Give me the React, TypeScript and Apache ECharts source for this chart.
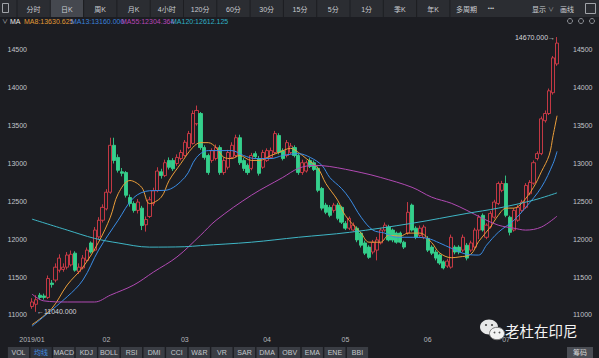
import React, { useEffect, useRef } from "react";
import * as echarts from "echarts";

// ---- categories ----
const months = ["2019/01", "02", "03", "04", "05", "06", "07"];
const monthCounts = [19, 20, 21, 20, 21, 20, 14];

// ---- OHLC ----
const opens = [11110,11140,11260,11250,11230,11420,11460,11590,11600,11630,11660,11815,11570,11620,11720,11950,11855,12030,12250,12400,
12620,13240,13080,12890,12880,12550,12470,12380,12410,12190,12300,12470,12640,12890,12840,13040,13040,13000,13065,13105,
13210,13265,13525,13660,13210,13105,13040,13065,13210,12880,12950,13080,13105,13340,13040,12975,12935,13130,13065,12950,
13040,13080,13145,13370,13170,13105,13145,13210,13105,12880,12900,13040,13010,12935,12670,12450,12420,12380,12450,12420,
12210,12145,12120,12145,12080,11950,11895,11830,11855,11950,12120,12160,12120,12080,12080,11960,12080,12450,12145,12050,
12025,12010,11895,11830,11790,11700,11645,11630,11895,11895,11855,11920,11855,11895,12120,12315,12025,12160,12290,12470,
12645,12735,12290,12120,12250,12380,12420,12600,12740,13065,13130,13565,13660,13935,14315];
const closes = [11170,11200,11230,11230,11480,11400,11630,11750,11630,11790,11800,11590,11630,11750,11855,11830,12120,12250,12420,12620,
13240,13040,12910,12870,12580,12470,12380,12490,12180,12260,12520,12640,12900,12840,13010,12950,12930,13080,13145,13280,
13395,13660,13700,13210,13080,12880,13170,13210,12880,13040,13145,13240,13340,13010,12935,12880,13105,13090,12870,13145,
13170,13170,13395,13145,13065,13275,13230,13105,12880,13010,13010,12960,12920,12645,12410,12355,12315,12450,12275,12225,
12145,12275,12185,11990,11920,11815,11760,11960,11990,12120,12185,11990,11990,11960,11960,11895,12355,12120,12025,12145,
12160,11855,11815,11750,11685,11620,11710,12025,11830,11830,12025,11750,11950,12120,12290,12120,12185,12340,12490,12735,
12735,12315,12090,12380,12420,12490,12710,12750,13010,13130,13590,13660,13960,14395,14590];
const lows = [11080,11040,11200,11200,11210,11360,11430,11560,11570,11600,11640,11570,11540,11600,11700,11810,11840,12000,12220,12380,
12600,13000,12880,12830,12550,12430,12350,12340,12120,12100,12280,12440,12620,12800,12820,12920,12900,12970,13040,13090,
13190,13250,13500,13180,13050,12850,13010,13040,12850,12850,12920,13060,13080,12980,12900,12850,12910,13060,12840,12930,
13020,13060,13120,13120,13040,13080,13120,13080,12850,12850,12880,12940,12900,12620,12380,12330,12290,12350,12250,12200,
12120,12120,12100,11960,11890,11790,11740,11800,11720,11930,12100,11970,11960,11940,11940,11870,12060,12100,12000,12030,
12000,11830,11790,11720,11660,11600,11620,11610,11800,11800,11830,11720,11830,11870,12000,12100,12000,12140,12270,12450,
12620,12290,12050,12100,12230,12360,12400,12580,12720,13040,13110,13540,13640,13910,14290];
const highs = [11220,11260,11290,11280,11520,11460,11680,11800,11680,11830,11850,11840,11680,11790,11890,11970,12160,12290,12460,12660,
13340,13340,13120,12940,12900,12590,12500,12530,12440,12300,12560,12680,12950,12930,13050,13080,13070,13120,13180,13310,
13430,13700,13765,13680,13240,13130,13200,13250,13240,13080,13180,13280,13380,13380,13070,13000,13140,13160,13100,13180,
13200,13210,13430,13400,13200,13310,13270,13240,13130,13050,13040,13070,13040,12960,12690,12480,12450,12480,12480,12440,
12240,12300,12220,12170,12100,11980,11920,11990,12030,12150,12220,12190,12140,12100,12100,11980,12490,12470,12170,12180,
12190,12040,11920,11860,11810,11720,11740,12060,11920,11920,12060,11950,11980,12150,12320,12340,12210,12370,12520,12760,
12770,12840,12310,12410,12450,12520,12740,12780,13040,13160,13620,13700,13990,14420,14670];

// ---- moving averages: [category index, value] ----
const ma8 = [[0,10870],[5,11080],[9,11395],[13,11630],[17,11960],[20,12290],[22,12600],[25,12775],[28,12685],[30,12470],
[33,12555],[35,12775],[38,13000],[41,13210],[43,13275],[45,13275],[47,13210],[49,13080],[51,13065],[53,13105],[56,13040],
[58,13040],[61,13105],[63,13145],[66,13200],[68,13145],[70,13065],[73,12935],[75,12735],[78,12515],[80,12310],[84,12080],
[86,11960],[89,11960],[91,12050],[94,12040],[96,12080],[99,12080],[102,11955],[104,11820],[107,11755],[109,11765],[112,11800],
[114,11970],[117,12160],[119,12315],[121,12410],[123,12410],[125,12475],[128,12685],[130,12890],[132,13110],[133,13370],[134,13630.625]];
const ma13 = [[0,10850],[9,11240],[13,11460],[17,11855],[22,12250],[26,12550],[30,12640],[34,12645],[39,12815],[42,13080],
[45,13170],[51,13170],[54,13105],[57,13065],[61,13065],[64,13105],[68,13130],[71,13080],[74,12975],[76,12815],[79,12670],
[81,12540],[84,12290],[87,12120],[90,12080],[93,12025],[97,12025],[101,12010],[104,11950],[107,11880],[111,11800],[114,11790],
[116,11920],[119,12090],[123,12250],[126,12420],[130,12685],[133,13000],[134,13160]];
const ma55 = [[0,11275],[3,11185],[9,11170],[16,11170],[20,11260],[26,11395],[31,11565],[37,11765],[43,12050],[47,12250],
[56,12580],[64,12815],[68,12935],[72,12975],[76,12960],[84,12880],[89,12815],[97,12685],[102,12555],[107,12475],[111,12380],
[115,12275],[119,12185],[123,12145],[126,12120],[130,12160],[134,12304.364]];
const ma120 = [[0,12265],[9,12120],[16,12010],[22,11950],[30,11895],[39,11900],[43,11915],[56,11960],[68,12025],[81,12090],
[97,12210],[111,12340],[119,12410],[128,12515],[134,12612.125]];

// ---- axis ticks ----
const yTicks = [11000, 11500, 12000, 12500, 13000, 13500, 14000, 14500];

// ---- toolbar texts ----
const tabs = ["分时", "日K", "周K", "月K", "4小时", "120分", "60分", "30分", "15分", "5分", "1分", "季K", "年K", "多周期"];
const indicators = ["VOL", "均线", "MACD", "KDJ", "BOLL", "RSI", "DMI", "CCI", "W&R", "VR", "SAR", "DMA", "OBV", "EMA", "ENE", "BBI"];

const BG = "#1c1d22";
const UP = "#d63c48";
const DOWN = "#34d08c";
const FONT = "'Liberation Sans', 'Noto Sans CJK SC', sans-serif";

function buildOption() {
  const categories: string[] = [];
  const monthStart = new Set<number>();
  months.forEach((m, k) => {
    monthStart.add(categories.length);
    for (let d = 0; d < monthCounts[k]; d++) categories.push(m + "#" + (d + 1));
  });
  const candles = opens.map((o, i) => [o, closes[i], lows[i], highs[i]]);
  const hiVal = Math.max(...highs);
  const hiIdx = highs.indexOf(hiVal);
  const loVal = Math.min(...lows);
  const loIdx = lows.indexOf(loVal);

  const g: any[] = [];
  const txt = (x: number, y: number, text: string, fill: string, size = 7, align = "center", z = 100) =>
    g.push({ type: "text", x, y, z, style: { text, fill, fontSize: size, fontFamily: FONT, align, verticalAlign: "middle" } });

  // top toolbar
  g.push({ type: "rect", z: 99, shape: { x: 0, y: 0, width: 599, height: 17 }, style: { fill: "#2b2d32" } });
  g.push({ type: "rect", z: 100, shape: { x: 50, y: 0, width: 33, height: 17 }, style: { fill: "#45484f" } });
  g.push({ type: "rect", z: 100, shape: { x: 2.5, y: 3.5, width: 6, height: 9 }, style: { fill: "none", stroke: "#a0a3a8", lineWidth: 1 } });
  for (let k = 0; k < tabs.length; k++) {
    const x0 = 17 + k * 33.3;
    g.push({ type: "line", z: 100, shape: { x1: x0, y1: 0, x2: x0, y2: 17 }, style: { stroke: "#1d1e22", lineWidth: 1 } });
    txt(x0 + 16.6, 9, tabs[k], "#c9ccd1");
  }
  txt(491, 8, "•••", "#c9ccd1", 6);
  txt(532, 9, "显示", "#c9ccd1", 7, "left");
  txt(551, 9, "∨", "#9a9da3", 6);
  txt(567, 9, "画线", "#c9ccd1");
  g.push({ type: "rect", z: 100, shape: { x: 585.5, y: 3.5, width: 10, height: 10 }, style: { fill: "none", stroke: "#a0a3a8", lineWidth: 1 } });

  // legend row
  txt(5, 21, "∨", "#b0b3b8", 6);
  txt(10, 21, "MA", "#e6e6e6", 7, "left");
  const last = (a: number[][]) => a[a.length - 1][1].toFixed(3);
  txt(24, 21, "MA8:" + last(ma8), "#e09a35", 7, "left");
  txt(71, 21, "MA13:" + last(ma13), "#3a82dc", 7, "left");
  txt(121, 21, "MA55:" + last(ma55), "#b845b8", 7, "left");
  txt(171, 21, "MA120:" + last(ma120), "#2fb0c4", 7, "left");
  [570, 581, 592].forEach((cx) =>
    g.push({ type: "circle", z: 100, shape: { cx, cy: 21, r: 2.5 }, style: { fill: "none", stroke: "#8d9096", lineWidth: 1 } })
  );

  // bottom indicator bar
  indicators.forEach((t, k) => {
    const c = 18.5 + 22.6 * k;
    g.push({ type: "rect", z: 99, shape: { x: c - 10.6, y: 347, width: 21.2, height: 11 }, style: { fill: k === 1 ? "#2f333b" : "#3a3d44" } });
    txt(c, 352.5, t, k === 1 ? "#3f8ae0" : "#c5c8cd");
  });
  g.push({ type: "rect", z: 99, shape: { x: 567, y: 347, width: 26, height: 11 }, style: { fill: "#4a4d54" } });
  txt(580, 352.5, "筹码", "#d6d6d6");

  // watermark
  g.push({ type: "ellipse", z: 100, shape: { cx: 489, cy: 327, rx: 9, ry: 7.5 }, style: { fill: "#e8e8e8" } });
  g.push({ type: "circle", z: 101, shape: { cx: 486, cy: 325, r: 1.1 }, style: { fill: "#555" } });
  g.push({ type: "circle", z: 101, shape: { cx: 492, cy: 325, r: 1.1 }, style: { fill: "#555" } });
  g.push({ type: "ellipse", z: 102, shape: { cx: 497, cy: 333.5, rx: 7.5, ry: 6.2 }, style: { fill: "#f2f2f2", stroke: "#777", lineWidth: 1 } });
  g.push({ type: "circle", z: 103, shape: { cx: 494.5, cy: 332.5, r: 0.9 }, style: { fill: "#555" } });
  g.push({ type: "circle", z: 103, shape: { cx: 499.5, cy: 332.5, r: 0.9 }, style: { fill: "#555" } });
  txt(505, 332, "老杜在印尼", "#f4f4f4", 14.5, "left", 104);

  const maLine = (name: string, data: number[][], color: string) => ({
    name, type: "line", data, smooth: 0.35, showSymbol: false, symbol: "none",
    lineStyle: { color, width: 1 }, itemStyle: { color }, silent: true, z: 3,
  });

  const yAxisBase = {
    type: "value", min: 10800, max: 14750, scale: true,
    splitLine: { show: false }, axisLine: { show: false }, axisTick: { show: false },
  };
  const fmt = (v: number) => String(v);

  return {
    animation: false,
    backgroundColor: BG,
    textStyle: { fontFamily: FONT },
    grid: { left: 30, right: 40, top: 31, bottom: 28 },
    xAxis: {
      type: "category", data: categories, boundaryGap: true,
      axisLine: { show: false }, axisTick: { show: false }, splitLine: { show: false },
      axisLabel: {
        color: "#b4b7bc", fontSize: 7, margin: 6, hideOverlap: false,
        interval: (idx: number) => monthStart.has(idx),
        formatter: (v: string) => v.split("#")[0],
      },
    },
    yAxis: [
      { ...yAxisBase, position: "left", axisLabel: { color: "#c2c5ca", fontSize: 7, margin: 3, customValues: yTicks, formatter: fmt } },
      { ...yAxisBase, position: "right", axisLabel: { color: "#c2c5ca", fontSize: 7, margin: 14, customValues: yTicks, formatter: fmt } },
    ],
    series: [
      {
        type: "candlestick", data: candles, barWidth: 3.6, z: 2,
        itemStyle: { color: BG, color0: DOWN, borderColor: UP, borderColor0: DOWN, borderWidth: 0.9 },
        markPoint: {
          symbol: "circle", symbolSize: 0, silent: true,
          label: { color: "#d4d6da", fontSize: 7, fontFamily: FONT },
          data: [
            { coord: [hiIdx, hiVal], value: hiVal, label: { position: "left", distance: 2, formatter: hiVal.toFixed(3) + "→" } },
            { coord: [loIdx, loVal], value: loVal, label: { position: "right", distance: 1, formatter: "←" + loVal.toFixed(3) } },
          ],
        },
      },
      maLine("MA8", ma8, "#eb9e3a"),
      maLine("MA13", ma13, "#3b8de6"),
      maLine("MA55", ma55, "#b14ab3"),
      maLine("MA120", ma120, "#3fb6c6"),
    ],
    graphic: g,
  };
}

export default function App() {
  const ref = useRef<HTMLDivElement>(null);
  useEffect(() => {
    const chart = echarts.init(ref.current!, null, { renderer: "svg" });
    chart.setOption(buildOption() as any);
    return () => chart.dispose();
  }, []);
  return (
    <div
      ref={ref}
      style={{ position: "fixed", left: 0, top: 0, width: 599, height: 358, background: BG }}
    />
  );
}
